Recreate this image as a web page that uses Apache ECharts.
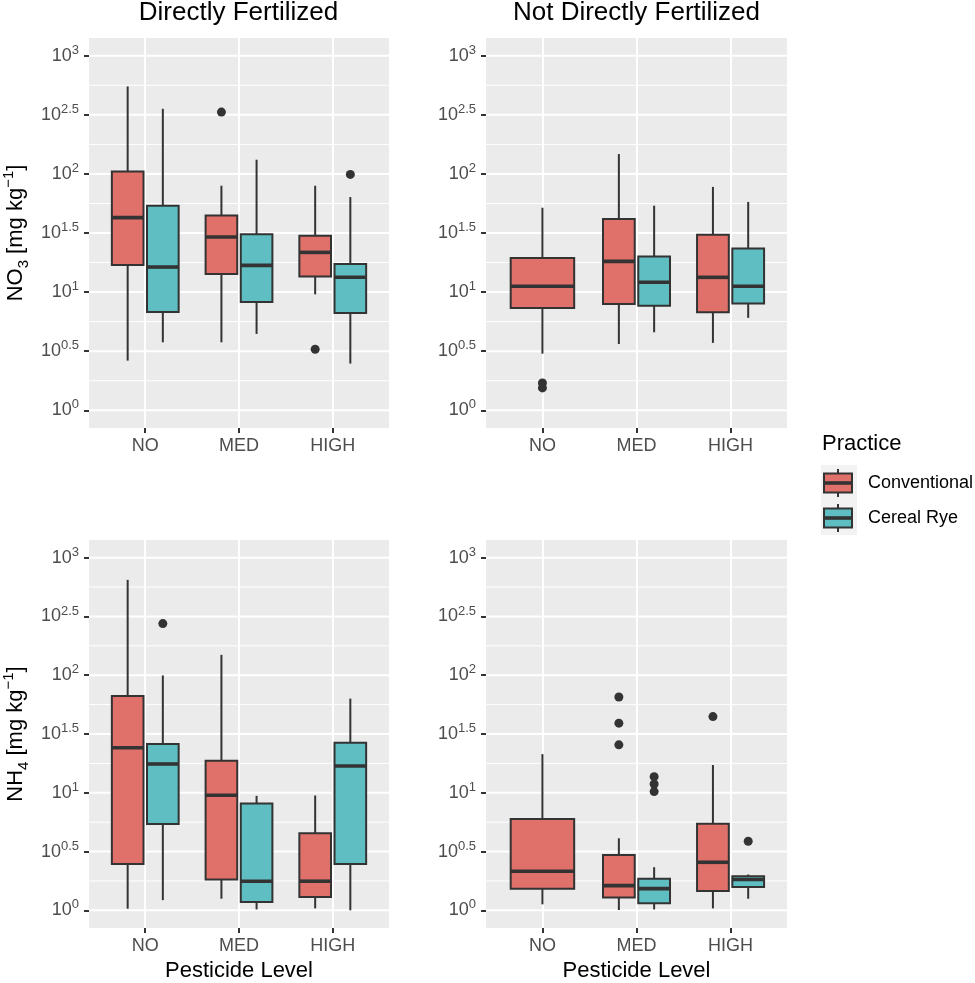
<!DOCTYPE html>
<html lang="en">
<head>
    <meta charset="UTF-8">
    <title>NO3 / NH4 by pesticide level</title>
    <script src="https://cdn.jsdelivr.net/npm/echarts@6/dist/echarts.min.js"></script>
    <style>
        html, body { margin: 0; padding: 0; background: #fff; }
        #chart { width: 975px; height: 983px; }
    </style>
</head>
<body>
    <div id="chart"></div>
    <script>
        // 分类与刻度
        const categories = ['NO', 'MED', 'HIGH'];
        const practices = ['Conventional', 'Cereal Rye'];
        const panelTitles = ['Directly Fertilized', 'Not Directly Fertilized'];
        const yTicks = [0, 0.5, 1, 1.5, 2, 2.5, 3];
        const yTickExp = ['0', '0.5', '1', '1.5', '2', '2.5', '3'];

        // 箱线数据 (log10): [min, Q1, median, Q3, max]，null = 无数据
        const no3DirConv = [[0.42, 1.23, 1.63, 2.02, 2.74], [0.575, 1.153, 1.466, 1.649, 1.90], [0.981, 1.131, 1.336, 1.477, 1.90]];
        const no3DirRye  = [[0.575, 0.832, 1.212, 1.731, 2.551], [0.646, 0.916, 1.226, 1.489, 2.12], [0.395, 0.823, 1.125, 1.238, 1.804]];
        const no3IndConv = [[0.479, 0.866, 1.049, 1.288, 1.714], [0.561, 0.899, 1.26, 1.618, 2.168], [0.57, 0.829, 1.125, 1.486, 1.89]];
        const no3IndRye  = [null, [0.66, 0.885, 1.083, 1.302, 1.731], [0.782, 0.903, 1.049, 1.368, 1.763]];
        const nh4DirConv = [[0.014, 0.395, 1.383, 1.823, 2.811], [0.099, 0.262, 0.979, 1.273, 2.173], [0.017, 0.113, 0.248, 0.655, 0.977]];
        const nh4DirRye  = [[0.087, 0.734, 1.245, 1.414, 1.998], [0.008, 0.071, 0.248, 0.909, 0.974], [0.0, 0.395, 1.228, 1.425, 1.801]];
        const nh4IndConv = [[0.051, 0.183, 0.333, 0.776, 1.329], [0.003, 0.11, 0.21, 0.47, 0.613], [0.017, 0.164, 0.409, 0.737, 1.236]];
        const nh4IndRye  = [null, [0.008, 0.06, 0.185, 0.268, 0.367], [0.099, 0.198, 0.262, 0.291, 0.305]];

        // 离群点 (log10)，按分类
        const no3DirConvOut = [[], [2.523], [0.516]];
        const no3DirRyeOut  = [[], [], [1.996]];
        const no3IndConvOut = [[0.231, 0.189], [], []];
        const no3IndRyeOut  = [[], [], []];
        const nh4DirConvOut = [[], [], []];
        const nh4DirRyeOut  = [[2.439], [], []];
        const nh4IndConvOut = [[], [1.815, 1.592, 1.408], [1.648]];
        const nh4IndRyeOut  = [[], [1.137, 1.075, 1.010], [0.588]];

        const panels = [
            { boxes: [no3DirConv, no3DirRye], outs: [no3DirConvOut, no3DirRyeOut] },
            { boxes: [no3IndConv, no3IndRye], outs: [no3IndConvOut, no3IndRyeOut] },
            { boxes: [nh4DirConv, nh4DirRye], outs: [nh4DirConvOut, nh4DirRyeOut] },
            { boxes: [nh4IndConv, nh4IndRye], outs: [nh4IndConvOut, nh4IndRyeOut] }
        ];

        const colors = ['#E0716A', '#5EBEC1'];
        const ink = '#333333';
        const font = 'Liberation Sans, Arial, Helvetica, sans-serif';
        const DODGE = 0.1875, HALF = 0.16875, FULL = 0.3375;

        // 面板位置 (灰底), y 范围 [-0.15, 3.15]
        const panelPos = [
            { left: 88, top: 38 }, { left: 486, top: 38 },
            { left: 88, top: 540 }, { left: 486, top: 540 }
        ];
        const PW = 301, PH = 390;

        function boxRenderer(fill) {
            return function (params, api) {
                const x = api.value(0), hw = api.value(6);
                const cx = api.coord([x, 0])[0];
                const l = api.coord([x - hw, 0])[0];
                const r = api.coord([x + hw, 0])[0];
                const yMin = api.coord([x, api.value(1)])[1];
                const yQ1 = api.coord([x, api.value(2)])[1];
                const yMed = api.coord([x, api.value(3)])[1];
                const yQ3 = api.coord([x, api.value(4)])[1];
                const yMax = api.coord([x, api.value(5)])[1];
                const ls = { stroke: ink, lineWidth: 2 };
                return {
                    type: 'group',
                    children: [
                        { type: 'line', shape: { x1: cx, y1: yMax, x2: cx, y2: yQ3 }, style: ls },
                        { type: 'line', shape: { x1: cx, y1: yQ1, x2: cx, y2: yMin }, style: ls },
                        { type: 'rect', shape: { x: l, y: yQ3, width: r - l, height: yQ1 - yQ3 },
                          style: { fill: fill, stroke: ink, lineWidth: 2 } },
                        { type: 'line', shape: { x1: l, y1: yMed, x2: r, y2: yMed }, style: { stroke: ink, lineWidth: 3.6 } }
                    ]
                };
            };
        }

        // 横向网格线: [y, 线宽]
        function gridRenderer(params, api) {
            const y = api.coord([0.4, api.value(0)])[1];
            const x0 = api.coord([0.4, 0])[0], x1 = api.coord([3.6, 0])[0];
            return { type: 'line', shape: { x1: x0, y1: y, x2: x1, y2: y }, style: { stroke: '#fff', lineWidth: api.value(1) } };
        }
        const hLines = yTicks.slice(1).map((v, i) => [(v + yTicks[i]) / 2, 1]).concat(yTicks.map(v => [v, 2]));

        const grids = [], xAxes = [], yAxes = [], series = [];
        panelPos.forEach((g, p) => {
            const bottomRow = p >= 2, leftCol = p % 2 === 0;
            grids.push({ show: true, backgroundColor: '#EBEBEB', borderWidth: 0, left: g.left, top: g.top, width: PW, height: PH });

            xAxes.push({
                type: 'value', gridIndex: p, min: 0.4, max: 3.6,
                name: bottomRow ? 'Pesticide Level' : '',
                nameLocation: 'middle', nameGap: 32,
                nameTextStyle: { fontSize: 22, color: '#000', fontFamily: font },
                axisLine: { show: false, onZero: false },
                axisTick: { show: true, length: 5, customValues: [1, 2, 3], lineStyle: { color: ink, width: 2 } },
                axisLabel: { show: true, customValues: [1, 2, 3], margin: 9, fontSize: 18, color: '#4D4D4D', fontFamily: font,
                             formatter: v => categories[Math.round(v) - 1] },
                splitLine: { show: true, lineStyle: { color: '#fff', width: 2 } }
            });
            yAxes.push({
                type: 'value', gridIndex: p, min: -0.15, max: 3.15,
                name: leftCol ? (bottomRow ? '{n|NH}{sub|4}{n| [mg kg}{sup|\u22121}{n|]}' : '{n|NO}{sub|3}{n| [mg kg}{sup|\u22121}{n|]}') : '',
                nameLocation: 'middle', nameRotate: 90, nameGap: 58,
                nameTextStyle: {
                    color: '#000', fontFamily: font,
                    rich: {
                        n: { fontSize: 22, color: '#000', fontFamily: font, lineHeight: 30 },
                        sub: { fontSize: 15, color: '#000', fontFamily: font, verticalAlign: 'bottom', lineHeight: 20 },
                        sup: { fontSize: 15, color: '#000', fontFamily: font, verticalAlign: 'top', lineHeight: 18 }
                    }
                },
                axisLine: { show: false, onZero: false },
                axisTick: { show: true, length: 5, customValues: yTicks, lineStyle: { color: ink, width: 2 } },
                axisLabel: {
                    show: true, customValues: yTicks, margin: 10,
                    formatter: v => '{b|10}{s|' + yTickExp[yTicks.indexOf(Math.round(v * 2) / 2)] + '}',
                    rich: {
                        b: { fontSize: 18, color: '#4D4D4D', fontFamily: font, lineHeight: 24 },
                        s: { fontSize: 13, color: '#4D4D4D', fontFamily: font, verticalAlign: 'top', lineHeight: 15 }
                    }
                },
                splitLine: { show: false }
            });

            series.push({
                type: 'custom', name: 'gridlines', xAxisIndex: p, yAxisIndex: p, silent: true,
                renderItem: gridRenderer, data: hLines, encode: { y: 0 }, z: 1
            });

            const panel = panels[p];
            panel.boxes.forEach((arr, k) => {
                const data = [], outData = [];
                arr.forEach((b, i) => {
                    const both = panel.boxes[1 - k][i] !== null;
                    const x = (i + 1) + (both ? (k === 0 ? -DODGE : DODGE) : 0);
                    if (b) data.push([x, b[0], b[1], b[2], b[3], b[4], both ? HALF : FULL]);
                    panel.outs[k][i].forEach(v => outData.push([x, v]));
                });
                series.push({
                    type: 'custom', name: practices[k], xAxisIndex: p, yAxisIndex: p,
                    renderItem: boxRenderer(colors[k]), data: data, encode: { x: 0, y: [1, 2, 3, 4, 5] }, z: 3
                });
                series.push({
                    type: 'scatter', name: practices[k] + ' outliers', xAxisIndex: p, yAxisIndex: p,
                    data: outData, symbol: 'circle', symbolSize: 9, itemStyle: { color: ink, opacity: 1 }, z: 4
                });
            });
        });

        // 图例 (ggplot 风格)
        function keyGlyph(y0, color) {
            return [
                { type: 'rect', shape: { x: 821, y: y0, width: 36, height: 35 }, style: { fill: '#F2F2F2' } },
                { type: 'line', shape: { x1: 838, y1: y0 + 4, x2: 838, y2: y0 + 32 }, style: { stroke: ink, lineWidth: 2 } },
                { type: 'rect', shape: { x: 824, y: y0 + 8.5, width: 28, height: 19 }, style: { fill: color, stroke: ink, lineWidth: 2 } },
                { type: 'line', shape: { x1: 824, y1: y0 + 18, x2: 852, y2: y0 + 18 }, style: { stroke: ink, lineWidth: 3.6 } }
            ];
        }
        const legendEls = [
            { type: 'text', x: 822, y: 444, style: { text: 'Practice', fontSize: 22, fill: '#000', fontFamily: font, verticalAlign: 'middle' } }
        ].concat(keyGlyph(465, colors[0]), keyGlyph(500, colors[1]), [
            { type: 'text', x: 868, y: 483, style: { text: practices[0], fontSize: 18, fill: '#000', fontFamily: font, verticalAlign: 'middle' } },
            { type: 'text', x: 868, y: 518, style: { text: practices[1], fontSize: 18, fill: '#000', fontFamily: font, verticalAlign: 'middle' } }
        ]);

        const option = {
            animation: false,
            backgroundColor: '#fff',
            textStyle: { fontFamily: font },
            title: [
                { text: panelTitles[0], left: 238.5, top: 0, padding: 0, textAlign: 'center',
                  textStyle: { fontSize: 26, fontWeight: 'normal', color: '#000', fontFamily: font } },
                { text: panelTitles[1], left: 636.5, top: 0, padding: 0, textAlign: 'center',
                  textStyle: { fontSize: 26, fontWeight: 'normal', color: '#000', fontFamily: font } }
            ],
            grid: grids,
            xAxis: xAxes,
            yAxis: yAxes,
            series: series,
            graphic: { elements: legendEls }
        };

        const chart = echarts.init(document.getElementById('chart'));
        chart.setOption(option);
    </script>
</body>
</html>
